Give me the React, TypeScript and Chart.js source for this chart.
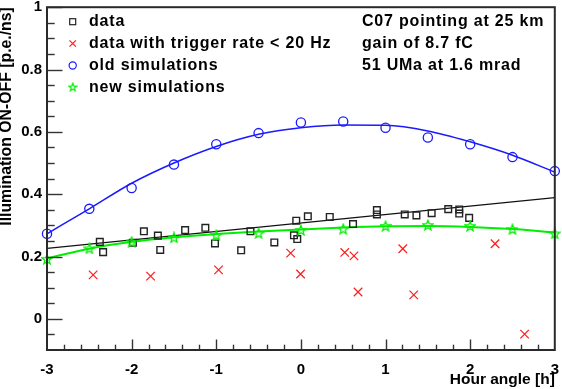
import React, { useEffect, useRef } from 'react';
import { Chart, registerables } from 'chart.js';

Chart.register(...registerables);

const FONT = "'Liberation Sans', Arial, Helvetica, sans-serif";

// black squares: data
const dataHours = [-2.376, -2.337, -1.985, -1.855, -1.69, -1.662, -1.368, -1.129, -1.015, -0.706, -0.596, -0.314, -0.082, -0.055, -0.043, 0.082, 0.341, 0.616, 0.898, 0.898, 1.227, 1.365, 1.545, 1.741, 1.871, 1.871, 1.988];
const dataValues = [0.247, 0.214, 0.244, 0.281, 0.267, 0.221, 0.285, 0.292, 0.242, 0.22, 0.281, 0.245, 0.268, 0.315, 0.256, 0.329, 0.327, 0.304, 0.349, 0.335, 0.335, 0.332, 0.339, 0.352, 0.351, 0.338, 0.324];

// red crosses: data with trigger rate < 20 Hz
const lowRateHours = [-2.455, -1.776, -0.973, -0.121, -0.004, 0.518, 0.627, 0.675, 1.204, 1.333, 2.294, 2.643];
const lowRateValues = [0.141, 0.137, 0.157, 0.211, 0.144, 0.213, 0.202, 0.086, 0.225, 0.077, 0.241, -0.049];

// simulations
const simHours = [-3, -2.5, -2, -1.5, -1, -0.5, 0, 0.5, 1, 1.5, 2, 2.5, 3];
const oldSimValues = [0.273, 0.353, 0.42, 0.495, 0.56, 0.596, 0.63, 0.633, 0.613, 0.582, 0.56, 0.519, 0.474];
const newSimValues = [0.192, 0.226, 0.247, 0.261, 0.269, 0.275, 0.285, 0.289, 0.298, 0.301, 0.298, 0.288, 0.274];

// fitted curves
const oldFitValues = [0.273, 0.353, 0.435, 0.5, 0.553, 0.592, 0.613, 0.622, 0.621, 0.603, 0.568, 0.525, 0.471];
const newFitValues = [0.194, 0.225, 0.247, 0.262, 0.272, 0.28, 0.287, 0.293, 0.297, 0.298, 0.295, 0.288, 0.277];
const linFitHours = [-3, 3];
const linFitValues = [0.226, 0.389];

// axes
const xTickValues = [-3, -2, -1, 0, 1, 2, 3];
const xTickLabels = ['-3', '-2', '-1', '0', '1', '2', '3'];
const yTickValues = [0, 0.2, 0.4, 0.6, 0.8, 1];
const yTickLabels = ['0', '0.2', '0.4', '0.6', '0.8', '1'];

const legendLabels = ['data', 'data with trigger rate < 20 Hz', 'old simulations', 'new simulations'];
const infoLines = ['C07 pointing at 25 km', 'gain of 8.7 fC', '51 UMa at 1.6 mrad'];

const pts = (xs: number[], ys: number[]) => xs.map((x, i) => ({ x, y: ys[i] }));

function makeStar(size: number, color: string, lw: number) {
  const c = document.createElement('canvas');
  c.width = size;
  c.height = size;
  const g = c.getContext('2d')!;
  const cx = size / 2;
  const cy = size / 2 + 0.5;
  const R = size / 2 - 0.8;
  const r = R * 0.42;
  g.beginPath();
  for (let i = 0; i < 10; i++) {
    const a = -Math.PI / 2 + (i * Math.PI) / 5;
    const rr = i % 2 ? r : R;
    g.lineTo(cx + rr * Math.cos(a), cy + rr * Math.sin(a));
  }
  g.closePath();
  g.strokeStyle = color;
  g.lineWidth = lw;
  g.stroke();
  return c;
}

const BLACK = '#222222';
const RED = '#ff1a1a';
const BLUE = '#1a1aff';
const GREEN = '#00ee00';

export default function App() {
  const ref = useRef<HTMLCanvasElement>(null);
  useEffect(() => {
    document.body.style.margin = '0';
    const canvas = ref.current!;
    const star = makeStar(12, GREEN, 1.3);
    const legendStar = makeStar(10, GREEN, 1.2);

    const rootAxes = {
      id: 'rootAxes',
      afterDatasetsDraw(chart: any) {
        const { ctx, chartArea: a, scales } = chart;
        const x = scales.x;
        const y = scales.y;
        ctx.save();
        ctx.strokeStyle = '#333';
        ctx.lineWidth = 1.4;
        for (let k = -1; k <= 20; k++) {
          const py = Math.round(y.getPixelForValue(k * 0.05)) + 0.5;
          const len = k % 4 === 0 ? 15.5 : 7.7;
          ctx.beginPath();
          ctx.moveTo(a.left, py);
          ctx.lineTo(a.left + len, py);
          ctx.stroke();
        }
        for (let k = -14; k <= 14; k++) {
          const px = Math.round(x.getPixelForValue(k * 0.2)) + 0.5;
          const len = k % 5 === 0 ? 10.5 : 5.3;
          ctx.beginPath();
          ctx.moveTo(px, a.bottom);
          ctx.lineTo(px, a.bottom - len);
          ctx.stroke();
        }
        ctx.strokeStyle = '#2a2a2a';
        ctx.lineWidth = 2;
        ctx.strokeRect(a.left, a.top, a.right - a.left, a.bottom - a.top);

        // legend
        ctx.font = `bold 16px ${FONT}`;
        (ctx as any).letterSpacing = '0.8px';
        ctx.fillStyle = '#000';
        ctx.textBaseline = 'middle';
        ctx.textAlign = 'left';
        const rows = [21.7, 43.5, 65.5, 87.3];
        const mx = 72.7;
        legendLabels.forEach((t, i) => ctx.fillText(t, 89, rows[i]));
        infoLines.forEach((t, i) => ctx.fillText(t, 362, rows[i]));
        (ctx as any).letterSpacing = '0px';
        // legend markers
        ctx.lineWidth = 1.2;
        ctx.strokeStyle = BLACK;
        ctx.strokeRect(mx - 3, rows[0] - 3, 6, 6);
        ctx.strokeStyle = RED;
        ctx.beginPath();
        ctx.moveTo(mx - 3.2, rows[1] - 3.2);
        ctx.lineTo(mx + 3.2, rows[1] + 3.2);
        ctx.moveTo(mx + 3.2, rows[1] - 3.2);
        ctx.lineTo(mx - 3.2, rows[1] + 3.2);
        ctx.stroke();
        ctx.strokeStyle = BLUE;
        ctx.beginPath();
        ctx.arc(mx, rows[2], 3.6, 0, Math.PI * 2);
        ctx.stroke();
        ctx.drawImage(legendStar, mx - 5, rows[3] - 5.5);
        ctx.restore();
      },
    };

    const chart = new Chart(canvas, {
      type: 'scatter',
      data: {
        datasets: [
          {
            label: 'data',
            data: pts(dataHours, dataValues),
            pointStyle: 'rect',
            pointRadius: 4.7,
            borderColor: BLACK,
            backgroundColor: 'rgba(0,0,0,0)',
            borderWidth: 1.4,
            showLine: false,
            order: 2,
            clip: false,
          },
          {
            label: 'data with trigger rate < 20 Hz',
            data: pts(lowRateHours, lowRateValues),
            pointStyle: 'crossRot',
            pointRadius: 6,
            borderColor: RED,
            backgroundColor: RED,
            borderWidth: 1.2,
            showLine: false,
            order: 2,
            clip: false,
          },
          {
            label: 'old simulations',
            data: pts(simHours, oldSimValues),
            pointStyle: 'circle',
            pointRadius: 4.6,
            borderColor: BLUE,
            backgroundColor: 'rgba(0,0,0,0)',
            borderWidth: 1.3,
            showLine: false,
            order: 1,
            clip: false,
          },
          {
            label: 'new simulations',
            data: pts(simHours, newSimValues),
            pointStyle: star as any,
            pointRadius: 6,
            borderColor: GREEN,
            backgroundColor: GREEN,
            showLine: false,
            order: 1,
            clip: false,
          },
          {
            label: 'old fit',
            data: pts(simHours, oldFitValues),
            showLine: true,
            pointRadius: 0,
            borderColor: BLUE,
            borderWidth: 1.5,
            cubicInterpolationMode: 'monotone',
            order: 5,
          },
          {
            label: 'new fit',
            data: pts(simHours, newFitValues),
            showLine: true,
            pointRadius: 0,
            borderColor: GREEN,
            borderWidth: 2,
            cubicInterpolationMode: 'monotone',
            order: 4,
          },
          {
            label: 'linear fit',
            data: pts(linFitHours, linFitValues),
            showLine: true,
            pointRadius: 0,
            borderColor: '#111',
            borderWidth: 1.2,
            order: 6,
          },
        ],
      },
      options: {
        animation: false,
        responsive: false,
        devicePixelRatio: 1,
        layout: { padding: { top: 7, right: 6, left: 0, bottom: 0 } },
        plugins: { legend: { display: false }, tooltip: { enabled: false } },
        scales: {
          x: {
            type: 'linear',
            min: -3,
            max: 3,
            afterBuildTicks: (s: any) => {
              s.ticks = xTickValues.map((v) => ({ value: v }));
            },
            afterFit: (s: any) => {
              s.height = 39;
              s.paddingLeft = 0;
              s.paddingRight = 0;
            },
            ticks: {
              callback: (v: any) => xTickLabels[xTickValues.indexOf(Number(v))] ?? '',
              font: { family: FONT, size: 15, weight: 'bold' },
              color: '#000',
              padding: 11,
              maxRotation: 0,
              autoSkip: false,
            },
            grid: { display: false, drawTicks: false },
            border: { display: false },
            title: {
              display: true,
              text: 'Hour angle [h]',
              align: 'end',
              color: '#000',
              font: { family: FONT, size: 15.5, weight: 'bold', lineHeight: 1.2 },
              padding: 0,
            },
          },
          y: {
            type: 'linear',
            min: -0.1,
            max: 1,
            afterBuildTicks: (s: any) => {
              s.ticks = yTickValues.map((v) => ({ value: v }));
            },
            afterFit: (s: any) => {
              s.width = 47;
              s.paddingTop = 0;
              s.paddingBottom = 0;
            },
            ticks: {
              callback: (v: any) => yTickLabels[yTickValues.findIndex((t) => Math.abs(t - Number(v)) < 1e-9)] ?? '',
              font: { family: FONT, size: 15, weight: 'bold' },
              color: '#000',
              padding: 5,
              autoSkip: false,
            },
            grid: { display: false, drawTicks: false },
            border: { display: false },
            title: {
              display: true,
              text: 'Illumination ON-OFF [p.e./ns]',
              align: 'end',
              color: '#000',
              font: { family: FONT, size: 15.8, weight: 'bold', lineHeight: 0.8 },
              padding: 0,
            },
          },
        },
      } as any,
      plugins: [rootAxes],
    });
    return () => chart.destroy();
  }, []);
  return (
    <div style={{ width: 562, height: 389 }}>
      <canvas ref={ref} width={562} height={389} style={{ display: 'block', width: 562, height: 389 }} />
    </div>
  );
}
